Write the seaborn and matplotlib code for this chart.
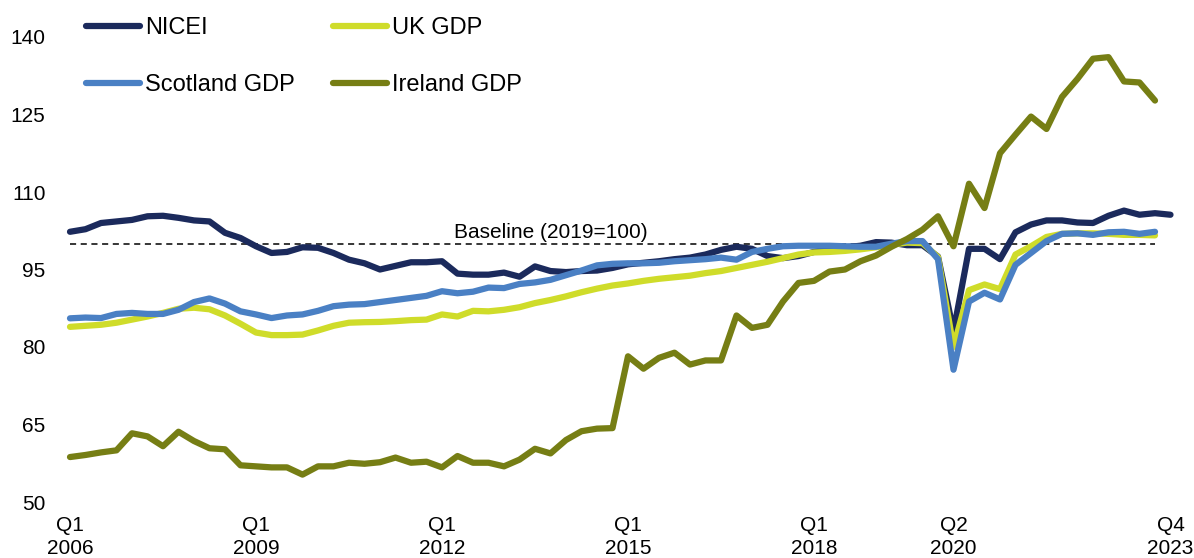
import numpy as np
import pandas as pd
import matplotlib
matplotlib.use("Agg")
import matplotlib.pyplot as plt
import seaborn as sns

# quarterly index values, Q1 2006 .. Q4 2023 (NICEI), Q3 2023 for the GDP series
nicei = [102.3, 102.8, 104.0, 104.3, 104.6, 105.3, 105.4, 105.0, 104.5, 104.3,
         102.1, 101.1, 99.5, 98.2, 98.4, 99.3, 99.2, 98.2, 96.9, 96.2,
         95.0, 95.7, 96.4, 96.4, 96.6, 94.2, 94.0, 94.0, 94.4, 93.6,
         95.6, 94.7, 94.5, 94.7, 94.8, 95.3, 96.0, 96.3, 96.6, 97.0,
         97.3, 97.9, 98.8, 99.4, 99.0, 97.6, 97.2, 97.6, 98.4, 99.0,
         99.3, 99.6, 100.3, 100.2, 99.7, 99.7, 97.5, 83.0, 99.0, 99.0,
         97.0, 102.2, 103.7, 104.5, 104.5, 104.1, 104.0, 105.4, 106.4, 105.6,
         105.9, 105.6]
uk_gdp = [83.9, 84.1, 84.3, 84.7, 85.3, 85.9, 86.6, 87.4, 87.6, 87.3,
          86.1, 84.5, 82.8, 82.3, 82.3, 82.4, 83.2, 84.1, 84.7, 84.8,
          84.85, 85.0, 85.2, 85.3, 86.3, 85.9, 87.0, 86.9, 87.2, 87.7,
          88.5, 89.1, 89.8, 90.6, 91.3, 91.9, 92.3, 92.8, 93.2, 93.5,
          93.8, 94.3, 94.7, 95.3, 95.9, 96.5, 97.2, 97.9, 98.3, 98.4,
          98.6, 98.9, 99.3, 99.8, 100.2, 100.1, 97.4, 80.0, 91.0, 92.1,
          91.2, 97.9, 99.5, 101.3, 101.9, 102.0, 102.0, 101.9, 101.7, 101.7,
          101.6]
scotland_gdp = [85.55, 85.7, 85.6, 86.4, 86.6, 86.4, 86.4, 87.2, 88.7, 89.4,
                88.4, 86.9, 86.3, 85.6, 86.1, 86.3, 87.0, 87.9, 88.2, 88.3,
                88.7, 89.1, 89.5, 89.9, 90.8, 90.4, 90.7, 91.5, 91.4, 92.2,
                92.5, 93.0, 93.9, 94.8, 95.8, 96.1, 96.2, 96.2, 96.3, 96.6,
                96.8, 97.0, 97.3, 96.9, 98.4, 99.0, 99.5, 99.6, 99.6, 99.6,
                99.5, 99.4, 99.4, 100.0, 100.5, 100.5, 97.0, 75.6, 88.8, 90.5,
                89.2, 95.9, 98.2, 100.5, 101.9, 102.0, 101.7, 102.2, 102.3, 101.9,
                102.3]
ireland_gdp = [58.7, 59.1, 59.6, 60.0, 63.3, 62.7, 60.8, 63.6, 61.8, 60.4,
               60.2, 57.1, 56.9, 56.7, 56.7, 55.3, 56.9, 56.9, 57.6, 57.4,
               57.7, 58.6, 57.6, 57.8, 56.7, 58.9, 57.6, 57.6, 56.9, 58.2,
               60.3, 59.4, 62.0, 63.7, 64.2, 64.3, 78.2, 75.8, 77.9, 78.9,
               76.6, 77.4, 77.4, 86.1, 83.7, 84.3, 88.8, 92.4, 92.8, 94.6,
               95.0, 96.6, 97.7, 99.4, 100.9, 102.7, 105.3, 99.5, 111.6, 106.9,
               117.5, 121.1, 124.6, 122.2, 128.4, 131.9, 135.8, 136.1, 131.4, 131.2,
               127.7]
baseline = [100] * len(uk_gdp)

tick_pos = [0, 12, 24, 36, 48, 57, 71]
tick_labels = ["Q1\n2006", "Q1\n2009", "Q1\n2012", "Q1\n2015", "Q1\n2018", "Q2\n2020", "Q4\n2023"]

series = {"NICEI": nicei, "UK GDP": uk_gdp, "Scotland GDP": scotland_gdp, "Ireland GDP": ireland_gdp}
colors = {"NICEI": "#1b2a5c", "UK GDP": "#cfdc2a", "Scotland GDP": "#4a80c4", "Ireland GDP": "#767e14"}

rows = []
for name, vals in series.items():
    for i, v in enumerate(vals):
        rows.append({"q": i, "value": v, "series": name})
df = pd.DataFrame(rows)

sns.set_style("white")
plt.rcParams["font.family"] = ["Liberation Sans", "DejaVu Sans"]
plt.rcParams["text.color"] = "black"
plt.rcParams["xtick.color"] = "black"
plt.rcParams["ytick.color"] = "black"

fig = plt.figure(figsize=(11.94, 5.58), dpi=100)
ax = fig.add_axes([62.25 / 1194, 56 / 558, 1116 / 1194, 465 / 558])

sns.lineplot(data=df, x="q", y="value", hue="series", hue_order=list(series.keys()),
             palette=colors, linewidth=4.5, ax=ax, legend=False, sort=False)
ax.plot(range(len(baseline)), baseline, color="black", lw=1.1, dashes=(4, 3), zorder=1)
ax.text(24.8, 102.2, "Baseline (2019=100)", fontsize=15, va="center", ha="left")

ax.set_xlim(-0.5, 71.5)
ax.set_ylim(50, 140)
ax.set_yticks([50, 65, 80, 95, 110, 125, 140])
ax.set_xticks(tick_pos)
ax.set_xticklabels(tick_labels, linespacing=1.3)
ax.tick_params(axis="y", length=0, pad=12, labelsize=15)
ax.tick_params(axis="x", length=0, pad=10, labelsize=15)
ax.set_xlabel("")
ax.set_ylabel("")
for s in ax.spines.values():
    s.set_visible(False)

handles = [plt.Line2D([], [], color=colors[n], lw=4.5, solid_capstyle="round") for n in series]
order = [0, 2, 1, 3]
fig.legend([handles[i] for i in order], [list(series.keys())[i] for i in order],
           ncol=2, loc="upper left", bbox_to_anchor=(86 / 1194, 1 - 17 / 558),
           frameon=False, fontsize=17, handlelength=2.3, handletextpad=0.2,
           columnspacing=1.6, labelspacing=1.5, borderpad=0, borderaxespad=0)

fig.savefig("out.png", dpi=100)
